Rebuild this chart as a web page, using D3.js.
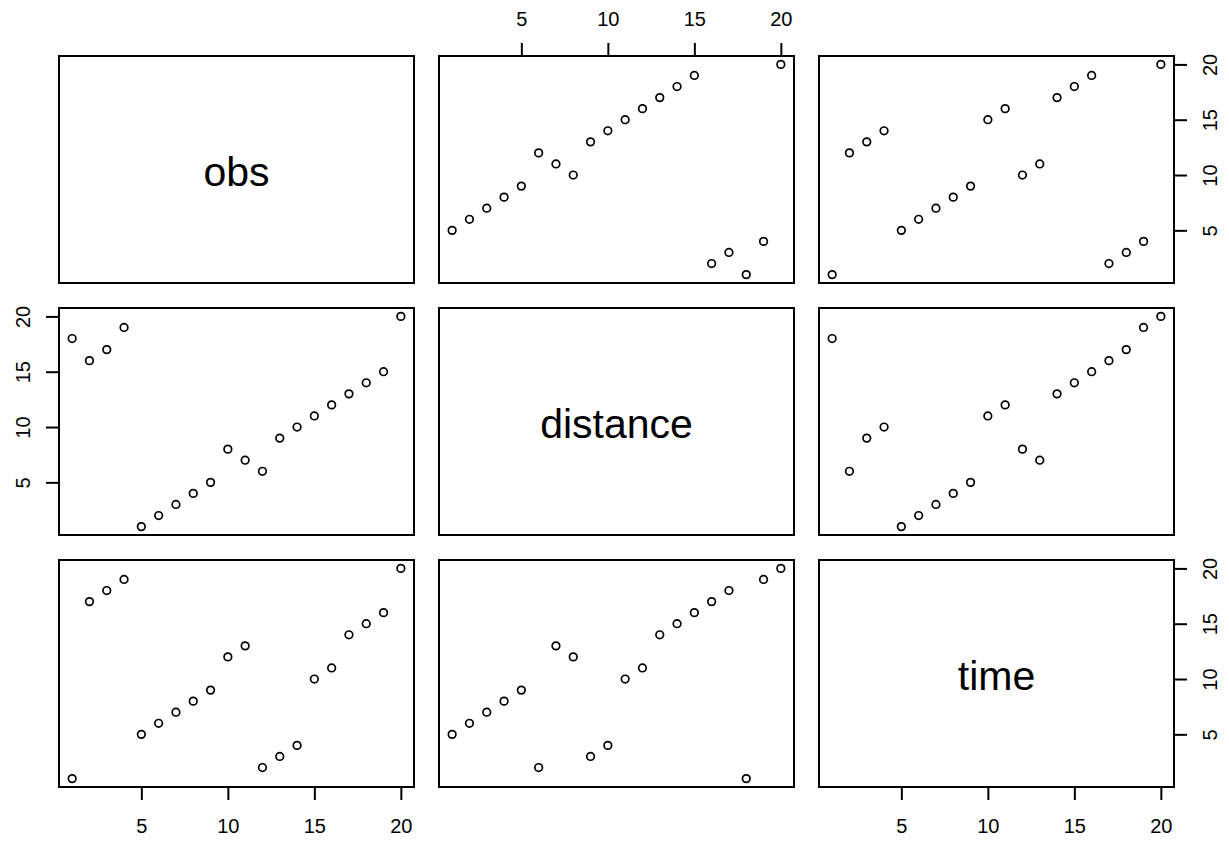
<!DOCTYPE html>
<html>
<head>
<meta charset="utf-8">
<script src="https://cdn.jsdelivr.net/npm/d3@7"></script>
<style>
  body { margin: 0; background: #fff; }
  text { font-family: "Liberation Sans", Arial, sans-serif; fill: #000; }
</style>
</head>
<body>
<div id="root"></div>
<script>
// Data: three ranked variables, 20 observations
const varNames = ["obs", "distance", "time"];
const obs      = [1, 2, 3, 4, 5, 6, 7, 8, 9, 10, 11, 12, 13, 14, 15, 16, 17, 18, 19, 20];
const distance = [18, 16, 17, 19, 1, 2, 3, 4, 5, 8, 7, 6, 9, 10, 11, 12, 13, 14, 15, 20];
const time     = [1, 17, 18, 19, 5, 6, 7, 8, 9, 12, 13, 2, 3, 4, 10, 11, 14, 15, 16, 20];
const tickValues = [5, 10, 15, 20];

const columns = [obs, distance, time];

const W = 1229, H = 842;
const colX = [59, 439, 819];   // panel left edges
const rowY = [56, 308, 560];   // panel top edges
const panelW = 355, panelH = 227;

const svg = d3.select("#root").append("svg")
  .attr("width", W)
  .attr("height", H);

//R style 4% padding on each side of the range
let lo = d3.min(obs), hi = d3.max(obs);
let pad = (hi - lo) * 0.04;
let xScale = d3.scaleLinear().domain([lo - pad, hi + pad]).range([0, panelW]);
let yScale = d3.scaleLinear().domain([lo - pad, hi + pad]).range([panelH, 0]);

for (let i = 0; i < 3; i++) {
  for (let j = 0; j < 3; j++) {
    let g = svg.append("g")
      .attr("transform", `translate(${colX[j]}, ${rowY[i]})`);

    if (i === j) {
      g.append("text")
        .attr("x", panelW / 2)
        .attr("y", panelH / 2 + 16)
        .attr("text-anchor", "middle")
        .style("font-size", "41px")
        .text(varNames[i]);
    } else {
      let xs = columns[j], ys = columns[i];
      g.selectAll("circle")
        .data(d3.range(xs.length))
        .enter()
          .append("circle")
          .attr("cx", k => xScale(xs[k]))
          .attr("cy", k => yScale(ys[k]))
          .attr("r", 3.8)
          .attr("fill", "none")
          .attr("stroke", "#000")
          .attr("stroke-width", 1.7);
    }

    //Axes alternate like pairs(): top on col 2, bottom on cols 1 & 3,
    //left on row 2, right on rows 1 & 3
    if (i === 0 && j === 1) addAxis(g, "top");
    if (i === 2 && (j === 0 || j === 2)) addAxis(g, "bottom");
    if (j === 0 && i === 1) addAxis(g, "left");
    if (j === 2 && (i === 0 || i === 2)) addAxis(g, "right");

    g.append("rect")
      .attr("width", panelW)
      .attr("height", panelH)
      .attr("fill", "none")
      .attr("stroke", "#000")
      .attr("stroke-width", 2);
  }
}

function addAxis(g, side) {
  let axis;
  if (side === "top") axis = d3.axisTop(xScale);
  if (side === "bottom") axis = d3.axisBottom(xScale);
  if (side === "left") axis = d3.axisLeft(yScale);
  if (side === "right") axis = d3.axisRight(yScale);
  axis.tickValues(tickValues).tickSize(13).tickFormat(d3.format("d"));

  let ag = g.append("g");
  if (side === "bottom") ag.attr("transform", `translate(0, ${panelH})`);
  if (side === "right") ag.attr("transform", `translate(${panelW}, 0)`);
  ag.call(axis);
  ag.select(".domain").remove();
  ag.selectAll(".tick line").attr("stroke", "#000").attr("stroke-width", 2);

  let t = ag.selectAll(".tick text")
    .attr("fill", "#000")
    .style("font-size", "20px")
    .attr("font-family", null)
    .attr("text-anchor", "middle")
    .attr("dy", null);

  if (side === "top") t.attr("y", -30);
  if (side === "bottom") t.attr("y", 46);
  if (side === "left") t.attr("x", 0).attr("y", -29).attr("transform", "rotate(-90)");
  if (side === "right") t.attr("x", 0).attr("y", 43).attr("transform", "rotate(-90)");
}
</script>
</body>
</html>
